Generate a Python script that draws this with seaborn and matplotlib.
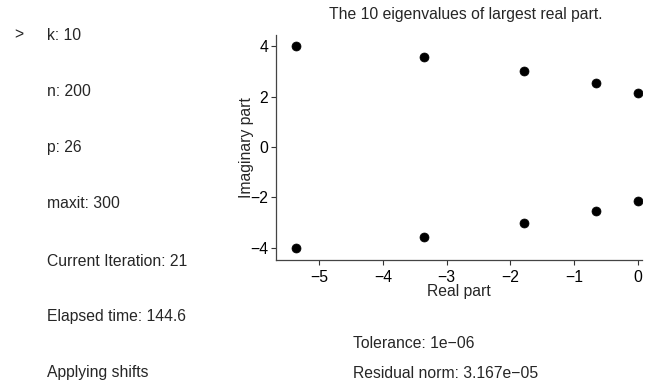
import matplotlib
matplotlib.use("Agg")
import matplotlib.pyplot as plt
import seaborn as sns
import pandas as pd

real_part = [-5.36, -3.35, -1.78, -0.66, 0.0, -5.36, -3.35, -1.78, -0.66, 0.0]
imag_part = [4.02, 3.55, 3.01, 2.52, 2.13, -4.02, -3.55, -3.01, -2.52, -2.13]
x_ticks = [-5, -4, -3, -2, -1, 0]
y_ticks = [-4, -2, 0, 2, 4]
left_labels = ["k: 10", "n: 200", "p: 26", "maxit: 300", "Current Iteration: 21",
               "Elapsed time: 144.6", "Applying shifts"]
right_labels = ["Tolerance: 1e\u221206", "Residual norm: 3.167e\u221205"]

sns.set_style("white")
plt.rcParams['font.family'] = ['Liberation Sans', 'DejaVu Sans']
plt.rcParams['axes.unicode_minus'] = True

FS = 11.3
W, H = 647, 383
fig = plt.figure(figsize=(W / 100, H / 100), dpi=100)
ax = fig.add_axes([276 / W, 1 - 260 / H, (642 - 276) / W, (260 - 35) / H])

df = pd.DataFrame({"re": real_part, "im": imag_part})
sns.scatterplot(data=df, x="re", y="im", ax=ax, color="black", s=42,
                edgecolor="black", linewidth=0.5)

ax.set_xlim(-5.68, 0.07)
ax.set_ylim(-4.48, 4.44)
ax.set_xticks(x_ticks)
ax.set_yticks(y_ticks)
ax.tick_params(direction="out", length=3.5, width=0.8, labelsize=FS,
               colors="#333333", labelcolor="black", bottom=True, left=True)
ax.tick_params(axis="x", pad=4)
ax.tick_params(axis="y", pad=2)
for s in ["top", "right"]:
    ax.spines[s].set_visible(False)
for s in ["left", "bottom"]:
    ax.spines[s].set_color("#444444")
    ax.spines[s].set_linewidth(0.9)
ax.set_xlabel("Real part", fontsize=FS, labelpad=-1)
ax.set_ylabel("Imaginary part", fontsize=FS, labelpad=-3)
fig.text(466 / W, 1 - 15 / H, "The 10 eigenvalues of largest real part.",
         ha="center", va="center", fontsize=FS)

ys = [35, 92, 148, 204, 261, 317, 373]
for lab, y in zip(left_labels, ys):
    fig.text(47 / W, 1 - y / H, lab, ha="left", va="center", fontsize=FS)
fig.text(14 / W, 1 - 35 / H, ">", ha="left", va="center", fontsize=FS)
for lab, y in zip(right_labels, [344, 373]):
    fig.text(353 / W, 1 - y / H, lab, ha="left", va="center", fontsize=FS)

fig.savefig("out.png", dpi=100)
